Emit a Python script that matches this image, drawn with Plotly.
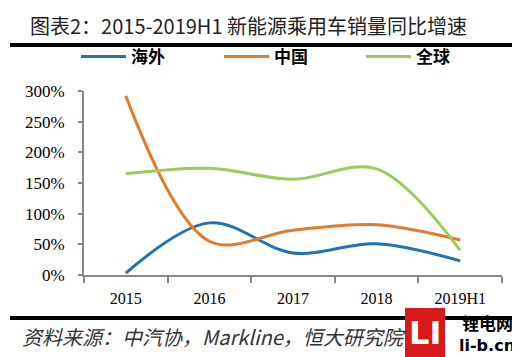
import plotly.graph_objects as go

categories = ["2015", "2016", "2017", "2018", "2019H1"]
overseas = [3, 85, 36, 51, 23]
china = [292, 55, 73, 82, 57]
world = [165, 174, 156, 173, 40]
y_ticks = [0, 50, 100, 150, 200, 250, 300]
y_tick_labels = ["0%", "50%", "100%", "150%", "200%", "250%", "300%"]

series = [("海外", overseas, "#2272B4"), ("中国", china, "#E27B2B"), ("全球", world, "#9BCB5E")]

# page body has an 8px margin, so the figure is 8px smaller and coordinates are shifted
OFF = 8
W, H = 520 - OFF, 357 - OFF
L, R, T, B = 84 - OFF, 18, 91 - OFF, 82
pw, ph = W - L - R, H - T - B

def px(x):
    return (x - OFF - L) / pw

def py(y):
    return (H - B - (y - OFF)) / ph

fig = go.Figure()
legend_names = ["legend", "legend2", "legend3"]
legend_x = [76, 219, 361]
for (name, vals, col), lg in zip(series, legend_names):
    fig.add_trace(go.Scatter(x=categories, y=vals, name="<b>" + name + "</b>", mode="lines",
                             legend=lg,
                             line=dict(color=col, width=3, shape="spline", smoothing=1.0)))

legend_common = dict(orientation="h", xanchor="left", yanchor="middle", itemwidth=45,
                     font=dict(family="Noto Sans CJK SC", size=17, color="black"),
                     bgcolor="rgba(0,0,0,0)")

fig.update_layout(
    width=W, height=H,
    margin=dict(l=L, r=R, t=T, b=B, autoexpand=False),
    paper_bgcolor="white", plot_bgcolor="white",
    showlegend=True,
    legend=dict(x=px(legend_x[0]), y=py(57), **legend_common),
    legend2=dict(x=px(legend_x[1]), y=py(57), **legend_common),
    legend3=dict(x=px(legend_x[2]), y=py(57), **legend_common),
    xaxis=dict(type="category", range=[-0.5, 4.5], showline=True, linecolor="#888888", linewidth=2,
               ticks="outside", tickson="boundaries", ticklen=6, tickwidth=2, tickcolor="#888888",
               showgrid=False, zeroline=False, ticklabelstandoff=8,
               tickfont=dict(family="Liberation Serif", size=16, color="black")),
    yaxis=dict(range=[0, 300], tickvals=y_ticks, ticktext=y_tick_labels,
               showline=True, linecolor="#888888", linewidth=2,
               ticks="outside", ticklen=4, tickwidth=2, tickcolor="#888888",
               showgrid=False, zeroline=False, ticklabelstandoff=10,
               tickfont=dict(family="Liberation Serif", size=17, color="black")),
)

shapes = [
    dict(type="line", xref="paper", yref="paper", x0=px(10), x1=px(516), y0=py(45), y1=py(45),
         line=dict(color="black", width=4)),
    dict(type="line", xref="paper", yref="paper", x0=px(10), x1=px(516), y0=py(318), y1=py(318),
         line=dict(color="black", width=4)),
    dict(type="rect", xref="paper", yref="paper", x0=px(405), x1=px(445), y0=py(357), y1=py(308),
         fillcolor="#D7191C", line=dict(width=0)),
]
fig.update_layout(shapes=shapes)

anns = [
    dict(text="图表2：2015-2019H1 新能源乘用车销量同比增速", x=px(28), y=py(8.5), xanchor="left", yanchor="top",
         font=dict(family="Noto Sans CJK SC", size=20, color="#222222")),
    dict(text="<i>资料来源：中汽协，Markline，恒大研究院</i>", x=px(20), y=py(336), xanchor="left", yanchor="middle",
         font=dict(family="Noto Sans CJK SC", size=20, color="#333333")),
    dict(text="<b>LI</b>", x=px(425), y=py(333), xanchor="center", yanchor="middle",
         font=dict(family="DejaVu Sans", size=32, color="white")),
    dict(text="<b>锂电网</b>", x=px(487), y=py(322), xanchor="center", yanchor="middle",
         font=dict(family="Noto Sans CJK SC", size=17, color="black")),
    dict(text="<b>li-b.cn</b>", x=px(487), y=py(345), xanchor="center", yanchor="middle",
         font=dict(family="DejaVu Sans", size=16, color="black")),
]
for a in anns:
    a.update(xref="paper", yref="paper", showarrow=False)
fig.update_layout(annotations=anns)

fig.write_html("out.html")
